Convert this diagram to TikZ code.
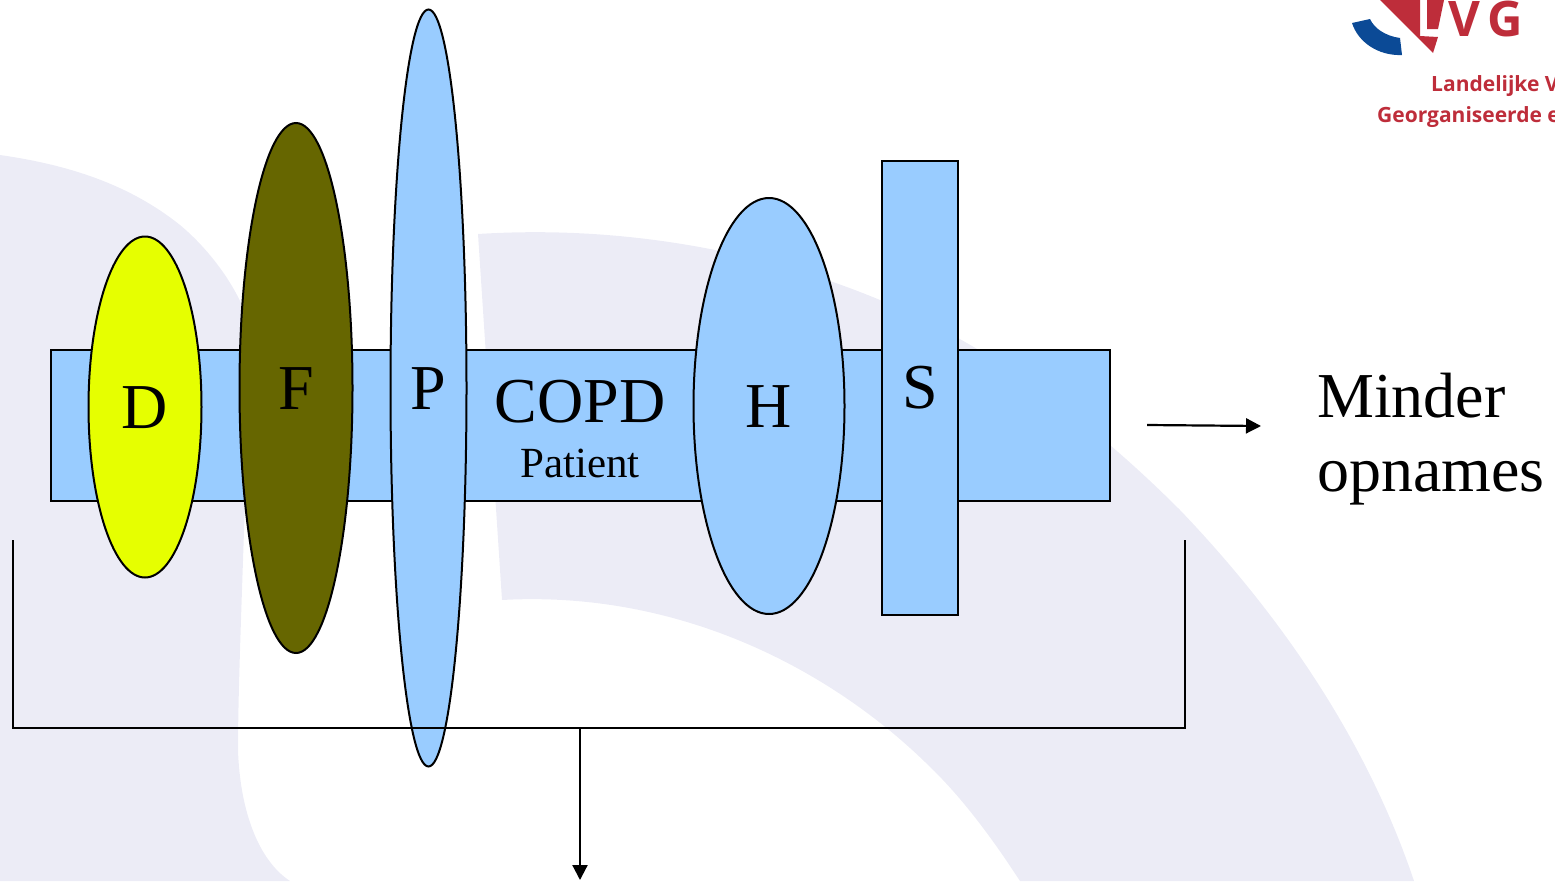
\documentclass[tikz,border=0pt]{standalone}
\usepackage{fontspec}
\setmainfont{Liberation Serif}
\newfontfamily\logofont{Open Sans}
\usetikzlibrary{shapes.geometric,arrows.meta}
\definecolor{wash}{HTML}{ECECF6}
\definecolor{sky}{HTML}{99CCFF}
\definecolor{lime}{HTML}{E6FF00}
\definecolor{olive}{HTML}{666600}
\definecolor{logored}{HTML}{BE2D3A}
\definecolor{logoblue}{HTML}{0B4A96}
\tikzset{
  x=1pt,y=-1pt,
  shapeline/.style={draw=black,line width=2pt},
  block/.style={shapeline,fill=sky,rectangle,inner sep=0pt},
  lbl/.style={inner sep=0pt,text=black},
  big/.style={lbl,font=\fontsize{64}{64}\selectfont},
  wire/.style={draw=black,line width=2.2pt},
  arrowwire/.style={wire,-{Triangle[length=15pt,width=15pt]}},
  logotext/.style={inner sep=0pt,text=logored,font=\logofont\bfseries\fontsize{21}{21}\selectfont,anchor=base west}
}
\begin{document}
\begin{tikzpicture}
\useasboundingbox (0,0) rectangle (1555,881);
\clip (0,0) rectangle (1555,881);
% background
\fill[wash] (0,155) .. controls (70,165) and (130,185) .. (180,225)
  .. controls (210,250) and (235,285) .. (246,315)
  .. controls (252,400) and (238,640) .. (238,750)
  .. controls (240,810) and (258,860) .. (290,881)
  -- (0,881) -- cycle;
\fill[wash] (478,234) .. controls (620,225) and (760,250) .. (880,300)
  .. controls (1000,350) and (1100,430) .. (1180,510)
  .. controls (1290,625) and (1370,750) .. (1414,881)
  -- (1020,881)
  .. controls (990,835) and (960,795) .. (925,762)
  .. controls (830,670) and (680,590) .. (502,600) -- cycle;
% logo
\fill[logored] (1380,0) -- (1433,53) -- (1438,37) -- (1420,36) -- (1420,0) -- cycle;
\fill[logored] (1427,0) -- (1444,0) -- (1438,29) -- (1427,29) -- cycle;
\fill[logoblue] (1352,23) -- (1370,19) .. controls (1374,28) and (1385,36) .. (1400,38)
  -- (1402,55) .. controls (1378,56) and (1358,42) .. (1352,23) -- cycle;
\node[inner sep=0pt,text=logored,font=\logofont\bfseries\fontsize{49}{49}\selectfont,anchor=base west] (logoname) at (1448,36) {V\hspace{7pt}G};
\node[logotext] (logo1) at (1431,91) {Landelijke V};
\node[logotext] (logo2) at (1377,122) {Georganiseerde e};
% main bar
\node[block,minimum width=1059pt,minimum height=151pt] (bar) at (580,425.5) {};
% overlays
\node[shapeline,fill=lime,ellipse,inner sep=0pt,minimum width=113pt,minimum height=341pt] (d) at (145,407) {};
\node[shapeline,fill=olive,ellipse,inner sep=0pt,minimum width=113pt,minimum height=530pt] (f) at (296,388) {};
\node[shapeline,fill=sky,ellipse,inner sep=0pt,minimum width=76pt,minimum height=757pt] (p) at (428.5,388) {};
\node[shapeline,fill=sky,ellipse,inner sep=0pt,minimum width=151pt,minimum height=416pt] (h) at (769,406) {};
\node[block,minimum width=76pt,minimum height=454pt] (s) at (920,387.5) {};
% labels
\node[big] at (145,408) {D};
\node[big] at (296,389) {F};
\node[big] at (428,389) {P};
\node[big] at (769,407) {H};
\node[big] at (920,388) {S};
\node[big] (copd) at (580,402) {COPD};
\node[lbl,font=\fontsize{43}{43}\selectfont] (patient) at (580,463) {Patient};
\node[big,anchor=base west] (minder) at (1317,417) {Minder};
\node[big,anchor=base west] (opnames) at (1317,491) {opnames};
% connectors
\coordinate (ba) at (13,540);
\coordinate (bb) at (13,728);
\coordinate (bc) at (1185,728);
\coordinate (bd) at (1185,540);
\coordinate (bm) at (580,728);
\coordinate (bend) at (580,880);
\coordinate (ra) at (1147,425);
\coordinate (rb) at (1261,426);
\draw[wire] (ba) -- (bb) -- (bc) -- (bd);
\draw[arrowwire] (bm) -- (bend);
\draw[arrowwire] (ra) -- (rb);
\end{tikzpicture}
\end{document}
